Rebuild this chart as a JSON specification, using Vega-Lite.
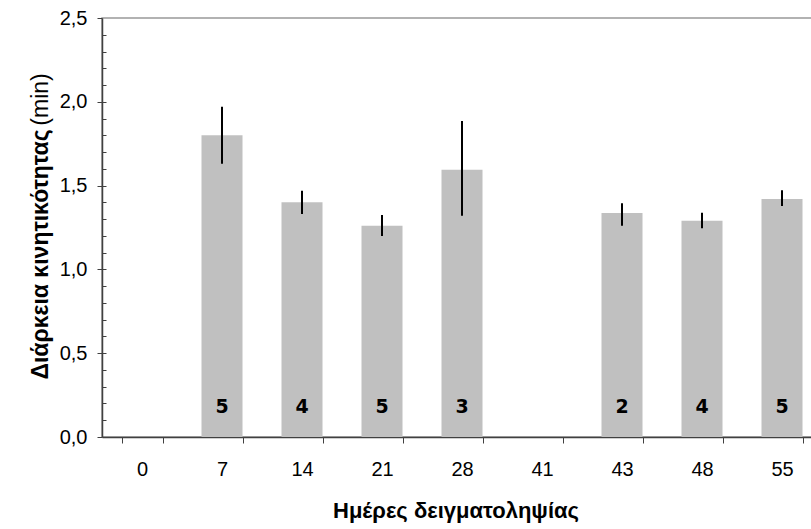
{
  "$schema": "https://vega.github.io/schema/vega-lite/v6.json",
  "width": 720,
  "height": 419,
  "autosize": {"type": "none"},
  "padding": {"left": 102, "top": 18, "right": 0, "bottom": 92},
  "background": "white",
  "config": {
    "view": {"stroke": "#999999", "strokeWidth": 1.5},
    "axis": {"labelFont": "Liberation Sans", "titleFont": "Liberation Sans", "labelColor": "#000000", "titleColor": "#000000", "grid": false}
  },
  "data": {
    "values": [
      {"day": "0", "mean": null, "lo": null, "hi": null, "n": null},
      {"day": "7", "mean": 1.80, "lo": 1.63, "hi": 1.97, "n": 5},
      {"day": "14", "mean": 1.40, "lo": 1.33, "hi": 1.47, "n": 4},
      {"day": "21", "mean": 1.26, "lo": 1.20, "hi": 1.325, "n": 5},
      {"day": "28", "mean": 1.595, "lo": 1.32, "hi": 1.885, "n": 3},
      {"day": "41", "mean": null, "lo": null, "hi": null, "n": null},
      {"day": "43", "mean": 1.337, "lo": 1.26, "hi": 1.395, "n": 2},
      {"day": "48", "mean": 1.29, "lo": 1.245, "hi": 1.338, "n": 4},
      {"day": "55", "mean": 1.42, "lo": 1.378, "hi": 1.472, "n": 5}
    ]
  },
  "encoding": {
    "x": {
      "field": "day",
      "type": "ordinal",
      "sort": null,
      "scale": {"domain": ["0", "7", "14", "21", "28", "41", "43", "48", "55"], "paddingInner": 0.4875, "paddingOuter": 0.24375},
      "axis": {
        "title": "Ημέρες δειγματοληψίας",
        "titleFontSize": 22,
        "titleFontWeight": "bold",
        "titleAlign": "center",
        "titleBaseline": "alphabetic",
        "titleX": 353.5,
        "titleY": 80,
        "labelAngle": 0,
        "labelFontSize": 20,
        "labelBaseline": "middle",
        "labelPadding": 26,
        "tickBand": "extent",
        "tickSize": 6,
        "tickColor": "#404040",
        "domainColor": "#404040",
        "domainWidth": 1.5
      }
    }
  },
  "layer": [
    {
      "mark": {"type": "bar", "color": "#c0c0c0"},
      "encoding": {
        "y": {
          "field": "mean",
          "type": "quantitative",
          "scale": {"domain": [0, 2.5], "nice": false, "zero": true},
          "axis": {
            "values": [0, 0.5, 1, 1.5, 2, 2.5],
            "labelExpr": "replace(format(datum.value, '.1f'), '.', ',')",
            "labelFontSize": 20,
            "labelPadding": 10,
            "tickSize": 5,
            "tickColor": "#404040",
            "domainColor": "#404040",
            "domainWidth": 1.5,
            "title": "Διάρκεια κινητικότητας",
            "titleFontSize": 23,
            "titleFontWeight": "bold",
            "titleAngle": -90,
            "titleAlign": "center",
            "titleBaseline": "alphabetic",
            "titleX": -55,
            "titleY": 236
          }
        }
      }
    },
    {
      "mark": {"type": "rule", "color": "#000000", "strokeWidth": 2},
      "encoding": {
        "y": {
          "field": "lo",
          "type": "quantitative",
          "scale": {"domain": [0, 2.5], "nice": false},
          "axis": {
            "orient": "left",
            "offset": 0,
            "values": [0.1, 0.2, 0.3, 0.4, 0.5, 0.6, 0.7, 0.8, 0.9, 1, 1.1, 1.2, 1.3, 1.4, 1.5, 1.6, 1.7, 1.8, 1.9, 2, 2.1, 2.2, 2.3, 2.4],
            "labels": false,
            "domain": false,
            "tickSize": -4,
            "tickColor": "#404040",
            "title": "(min)",
            "titleFontSize": 23,
            "titleFontWeight": "normal",
            "titleAngle": -90,
            "titleAlign": "center",
            "titleBaseline": "alphabetic",
            "titleX": -55,
            "titleY": 81
          }
        },
        "y2": {"field": "hi"}
      }
    },
    {
      "transform": [{"filter": "datum.n != null"}],
      "mark": {"type": "text", "font": "DejaVu Sans", "fontWeight": "bold", "fontSize": 19, "color": "#000000", "baseline": "middle"},
      "encoding": {
        "y": {"datum": 0.18, "type": "quantitative", "axis": null},
        "text": {"field": "n", "type": "nominal"}
      }
    }
  ],
  "resolve": {"axis": {"y": "independent"}}
}
